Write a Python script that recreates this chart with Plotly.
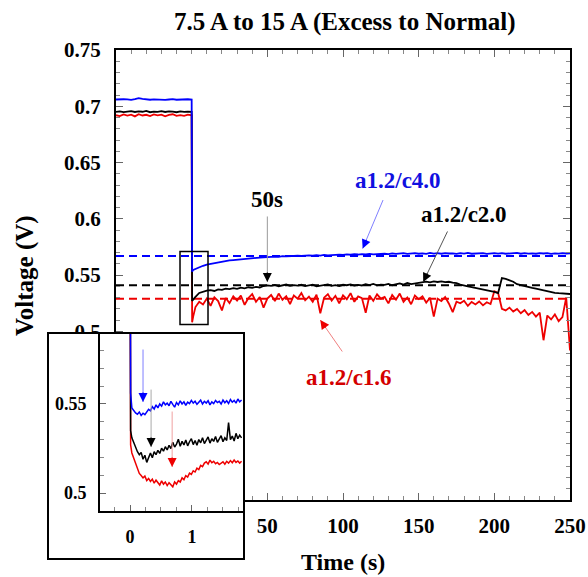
import plotly.graph_objects as go

W, H = 588, 577
SERIF = "Liberation Serif"

BLUE = "#0000ff"
BLACK = "#000000"
RED = "#ee0000"

# ---------------- main record ----------------
# sampling grid (s): 50 s at 7.5 A, then 250 s at 15 A
t_pre = [-50 + 2.5 * i for i in range(21)]
t_post = [0.3, 1.0] + [2.5 * i for i in range(1, 101)]

c40_pre = [0.7060, 0.7058, 0.7062, 0.7061, 0.7057, 0.7063, 0.7072, 0.7066, 0.7060, 0.7058,
           0.7061, 0.7059, 0.7062, 0.7057, 0.7060, 0.7063, 0.7058, 0.7061, 0.7059, 0.7062, 0.7060]
c20_pre = [0.6950, 0.6955, 0.6948, 0.6953, 0.6957, 0.6949, 0.6954, 0.6951, 0.6958, 0.6947,
           0.6953, 0.6950, 0.6956, 0.6949, 0.6954, 0.6952, 0.6947, 0.6955, 0.6950, 0.6953, 0.6951]
c16_pre = [0.6920, 0.6912, 0.6928, 0.6917, 0.6925, 0.6910, 0.6930, 0.6918, 0.6924, 0.6913,
           0.6927, 0.6919, 0.6926, 0.6911, 0.6923, 0.6929, 0.6915, 0.6921, 0.6914, 0.6926, 0.6920]

c40_post = [0.5530, 0.5545,
            0.5555, 0.5570, 0.5582, 0.5593, 0.5600, 0.5608, 0.5613, 0.5620, 0.5624, 0.5630,
            0.5633, 0.5637, 0.5641, 0.5643, 0.5648, 0.5650, 0.5652, 0.5655, 0.5657, 0.5660,
            0.5661, 0.5664, 0.5662, 0.5667, 0.5665, 0.5669, 0.5667, 0.5671, 0.5669, 0.5672,
            0.5674, 0.5671, 0.5676, 0.5673, 0.5678, 0.5675, 0.5679, 0.5677, 0.5681, 0.5679,
            0.5683, 0.5680, 0.5685, 0.5682, 0.5686, 0.5683, 0.5688, 0.5684, 0.5687, 0.5685,
            0.5689, 0.5686, 0.5692, 0.5687, 0.5690, 0.5694, 0.5688, 0.5691, 0.5695, 0.5689,
            0.5693, 0.5688, 0.5696, 0.5690, 0.5694, 0.5689, 0.5695, 0.5691, 0.5693, 0.5688,
            0.5694, 0.5690, 0.5696, 0.5689, 0.5693, 0.5691, 0.5695, 0.5688, 0.5692, 0.5694,
            0.5690, 0.5695, 0.5689, 0.5693, 0.5691, 0.5696, 0.5689, 0.5694, 0.5690, 0.5693,
            0.5689, 0.5694, 0.5691, 0.5695, 0.5688, 0.5693, 0.5690, 0.5694, 0.5691, 0.5692]

c20_post = [0.5270, 0.5285,
            0.5305, 0.5340, 0.5352, 0.5362, 0.5366, 0.5358, 0.5372, 0.5368, 0.5378, 0.5374,
            0.5383, 0.5377, 0.5388, 0.5381, 0.5391, 0.5385, 0.5395, 0.5389, 0.5402, 0.5408,
            0.5404, 0.5412, 0.5400, 0.5409, 0.5415, 0.5403, 0.5410, 0.5406, 0.5413, 0.5401,
            0.5408, 0.5414, 0.5399, 0.5406, 0.5411, 0.5417, 0.5404, 0.5410, 0.5402, 0.5413,
            0.5409, 0.5416, 0.5405, 0.5412, 0.5407, 0.5418, 0.5411, 0.5420, 0.5408, 0.5415,
            0.5412, 0.5421, 0.5409, 0.5418, 0.5425, 0.5414, 0.5430, 0.5419, 0.5426, 0.5433,
            0.5437, 0.5441, 0.5435, 0.5443, 0.5438, 0.5444, 0.5436, 0.5440, 0.5433, 0.5428,
            0.5415, 0.5405, 0.5398, 0.5392, 0.5386, 0.5380, 0.5374, 0.5368, 0.5362, 0.5350,
            0.5340, 0.5472, 0.5466, 0.5452, 0.5440, 0.5418, 0.5408, 0.5400, 0.5392, 0.5385,
            0.5378, 0.5370, 0.5362, 0.5355, 0.5348, 0.5342, 0.5338, 0.5335, 0.5333, 0.5331]

c16_post = [0.5080, 0.5130,
            0.5215, 0.5262, 0.5238, 0.5290, 0.5225, 0.5302, 0.5268, 0.5185, 0.5295, 0.5250,
            0.5310, 0.5272, 0.5318, 0.5235, 0.5296, 0.5330, 0.5262, 0.5305, 0.5210, 0.5290,
            0.5322, 0.5268, 0.5335, 0.5280, 0.5312, 0.5242, 0.5318, 0.5290, 0.5340, 0.5275,
            0.5308, 0.5262, 0.5325, 0.5160, 0.5298, 0.5330, 0.5272, 0.5315, 0.5248, 0.5320,
            0.5285, 0.5338, 0.5262, 0.5310, 0.5295, 0.5165, 0.5318, 0.5270, 0.5328, 0.5290,
            0.5305, 0.5248, 0.5322, 0.5280, 0.5335, 0.5262, 0.5300, 0.5240, 0.5318, 0.5285,
            0.5310, 0.5255, 0.5298, 0.5130, 0.5290, 0.5268, 0.5305, 0.5245, 0.5170, 0.5262,
            0.5248, 0.5272, 0.5225, 0.5260, 0.5238, 0.5265, 0.5230, 0.5258, 0.5242, 0.5355,
            0.5340, 0.5200, 0.5185, 0.5210, 0.5175, 0.5198, 0.5160, 0.5188, 0.5145, 0.5172,
            0.5130, 0.5165, 0.4920, 0.5140, 0.5105, 0.5150, 0.5090, 0.5125, 0.5300, 0.4830]

# steady-state reference levels (dashed)
level_c40 = 0.567
level_c20 = 0.541
level_c16 = 0.529

# ---------------- zoomed view of the first seconds after the step ----------------
x_zoom = [0.0, 0.01] + [0.03 * i for i in range(1, 61)]

zc40 = [0.706, 0.556,
        0.5478, 0.5462, 0.5450, 0.5442, 0.5455, 0.5436, 0.5448, 0.5440, 0.5458, 0.5470,
        0.5462, 0.5485, 0.5472, 0.5495, 0.5478, 0.5500, 0.5488, 0.5512, 0.5495, 0.5505,
        0.5490, 0.5515, 0.5498, 0.5482, 0.5508, 0.5495, 0.5518, 0.5500, 0.5512, 0.5492,
        0.5510, 0.5502, 0.5520, 0.5505, 0.5515, 0.5498, 0.5510, 0.5522, 0.5500, 0.5515,
        0.5505, 0.5518, 0.5495, 0.5512, 0.5502, 0.5520, 0.5508, 0.5515, 0.5500, 0.5522,
        0.5507, 0.5518, 0.5503, 0.5525, 0.5510, 0.5520, 0.5505, 0.5528, 0.5512, 0.5522]

zc20 = [0.695, 0.535,
        0.5310, 0.5282, 0.5255, 0.5232, 0.5215, 0.5228, 0.5190, 0.5212, 0.5172, 0.5205,
        0.5225, 0.5198, 0.5232, 0.5215, 0.5240, 0.5222, 0.5252, 0.5235, 0.5260, 0.5242,
        0.5268, 0.5250, 0.5285, 0.5258, 0.5275, 0.5302, 0.5262, 0.5290, 0.5270, 0.5298,
        0.5265, 0.5288, 0.5305, 0.5272, 0.5295, 0.5268, 0.5300, 0.5282, 0.5310, 0.5278,
        0.5298, 0.5315, 0.5280, 0.5305, 0.5290, 0.5318, 0.5285, 0.5300, 0.5322, 0.5288,
        0.5310, 0.5295, 0.5395, 0.5300, 0.5320, 0.5292, 0.5335, 0.5305, 0.5325, 0.5310]

zc16 = [0.692, 0.527,
        0.5225, 0.5195, 0.5160, 0.5135, 0.5110, 0.5098, 0.5085, 0.5095, 0.5070, 0.5082,
        0.5065, 0.5078, 0.5055, 0.5072, 0.5060, 0.5045, 0.5068, 0.5050, 0.5062, 0.5042,
        0.5058, 0.5048, 0.5035, 0.5062, 0.5050, 0.5070, 0.5062, 0.5085, 0.5075, 0.5098,
        0.5090, 0.5112, 0.5105, 0.5125, 0.5118, 0.5140, 0.5132, 0.5155, 0.5148, 0.5168,
        0.5175, 0.5162, 0.5185, 0.5170, 0.5178, 0.5165, 0.5172, 0.5160, 0.5168, 0.5175,
        0.5162, 0.5178, 0.5168, 0.5182, 0.5170, 0.5185, 0.5172, 0.5180, 0.5168, 0.5178]

# axis extents and labelled ticks
X_RANGE = [-50, 250]
Y_RANGE = [0.35, 0.75]
X_TICKS = [50, 100, 150, 200, 250]
Y_TICKS = [0.5, 0.55, 0.6, 0.65, 0.7, 0.75]
Z_X_RANGE = [-0.484, 1.823]
Z_Y_RANGE = [0.4899, 0.5893]
Z_X_TICKS = [0, 1]
Z_Y_TICKS = [0.5, 0.55]


def px(x):
    return x / W


def py(y):
    return 1 - y / H


fig = go.Figure()

# dashed steady-state levels
for lvl, col in [(level_c40, BLUE), (level_c20, BLACK), (level_c16, RED)]:
    fig.add_trace(go.Scatter(x=X_RANGE, y=[lvl, lvl], mode="lines",
                             line=dict(color=col, width=2, dash="8px,5px"),
                             hoverinfo="skip", showlegend=False))

for pre, post, col in [(c16_pre, c16_post, RED), (c20_pre, c20_post, BLACK),
                       (c40_pre, c40_post, BLUE)]:
    fig.add_trace(go.Scatter(x=t_pre + t_post, y=pre + post, mode="lines",
                             line=dict(color=col, width=1.8), showlegend=False))

# empty frame for the inset panel
fig.add_trace(go.Scatter(x=[], y=[], xaxis="x2", yaxis="y2", showlegend=False))

for ys, col in [(zc16, RED), (zc20, BLACK), (zc40, BLUE)]:
    fig.add_trace(go.Scatter(x=x_zoom, y=ys, mode="lines", xaxis="x3", yaxis="y3",
                             line=dict(color=col, width=1.5), showlegend=False))

tickfont = dict(family=SERIF, size=21, color="black", weight="bold")
zfont = dict(family=SERIF, size=18, color="black", weight="bold")

fig.update_layout(
    width=W, height=H,
    margin=dict(l=0, r=0, t=0, b=0, autoexpand=False),
    paper_bgcolor="white", plot_bgcolor="white",
    showlegend=False,
    xaxis=dict(domain=[px(116), px(570)], range=X_RANGE, anchor="y", automargin=False,
               showline=True, linewidth=2, linecolor="black", mirror="ticks",
               ticks="inside", ticklen=7, tickwidth=1, tickcolor="#666",
               tickvals=X_TICKS, tickfont=tickfont, ticklabelstandoff=6,
               minor=dict(tick0=0, dtick=10, ticks="inside", ticklen=4, tickcolor="#888"),
               showgrid=False, zeroline=False),
    yaxis=dict(domain=[py(500), py(50)], range=Y_RANGE, anchor="x", automargin=False,
               showline=True, linewidth=2, linecolor="black", mirror="ticks",
               ticks="inside", ticklen=7, tickwidth=1, tickcolor="#666",
               tickvals=Y_TICKS, tickfont=tickfont, ticklabelstandoff=9,
               minor=dict(tick0=0, dtick=0.01, ticks="inside", ticklen=4, tickcolor="#888"),
               showgrid=False, zeroline=False),
    xaxis2=dict(domain=[px(49), px(243)], range=[0, 1], anchor="y2", automargin=False,
                showline=True, linewidth=2, linecolor="black", mirror=True,
                showticklabels=False, ticks="", showgrid=False, zeroline=False),
    yaxis2=dict(domain=[py(558), py(334)], range=[0, 1], anchor="x2", automargin=False,
                showline=True, linewidth=2, linecolor="black", mirror=True,
                showticklabels=False, ticks="", showgrid=False, zeroline=False),
    xaxis3=dict(domain=[px(100), px(243)], range=Z_X_RANGE, anchor="y3", automargin=False,
                showline=True, linewidth=2, linecolor="black",
                ticks="inside", ticklen=6, tickcolor="#666", tickvals=Z_X_TICKS,
                tickfont=zfont, ticklabelstandoff=8,
                minor=dict(tick0=0, dtick=0.25, ticks="inside", ticklen=4, tickcolor="#888"),
                showgrid=False, zeroline=False),
    yaxis3=dict(domain=[py(511), py(334)], range=Z_Y_RANGE, anchor="x3", automargin=False,
                showline=True, linewidth=2, linecolor="black",
                ticks="inside", ticklen=6, tickcolor="#666", tickvals=Z_Y_TICKS,
                tickfont=zfont, ticklabelstandoff=8,
                minor=dict(tick0=0.5, dtick=0.01, ticks="inside", ticklen=4, tickcolor="#888"),
                showgrid=False, zeroline=False),
)

# box marking the zoomed window on the main axes
fig.add_shape(type="rect", xref="x", yref="y", x0=-7.7, x1=10.8, y0=0.506, y1=0.571,
              line=dict(color="black", width=1.5), layer="above")


def label(text, x, y, size, color="black", angle=0):
    fig.add_annotation(text=text, xref="paper", yref="paper", x=px(x), y=py(y),
                       xanchor="center", yanchor="middle", showarrow=False,
                       textangle=angle,
                       font=dict(family=SERIF, size=size, color=color, weight="bold"))


def pointer(xr, yr, x, y, dx, dy, line_col, head_col):
    # thin shaft from the tail to the tip
    fig.add_annotation(text="", xref=xr, yref=yr, x=x, y=y, ax=dx, ay=dy,
                       showarrow=True, arrowhead=0, arrowwidth=1, arrowcolor=line_col)
    # solid triangular head
    n = (dx * dx + dy * dy) ** 0.5
    fig.add_annotation(text="", xref=xr, yref=yr, x=x, y=y,
                       ax=dx / n * 11, ay=dy / n * 11,
                       showarrow=True, arrowhead=2, arrowsize=1.5, arrowwidth=1.2,
                       arrowcolor=head_col)


label("7.5 A to 15 A (Excess to Normal)", 345, 22, 25)
label("Voltage (V)", 25, 276, 25, angle=-90)
label("Time (s)", 343, 562, 24)

label("50s", 267, 200, 23)
label("a1.2/c4.0", 398, 180, 23, color="#1010e0")
label("a1.2/c2.0", 464, 215, 23)
label("a1.2/c1.6", 349, 377, 23, color="#d40000")

pointer("x", "y", 50, 0.5438, 0, -67, "#999999", BLACK)
pointer("x", "y", 113, 0.5735, 21, -50, "#7f7fff", BLUE)
pointer("x", "y", 153, 0.5438, 25, -52, "#555555", BLACK)
pointer("x", "y", 85, 0.510, 23, 33, "#f08080", RED)

pointer("x3", "y3", 0.21, 0.5511, 0, -54, "#7f7fff", BLUE)
pointer("x3", "y3", 0.34, 0.5258, 0, -59, "#aaaaaa", BLACK)
pointer("x3", "y3", 0.68, 0.5146, 0, -57, "#f0a0a0", RED)

fig.write_html("out.html")
